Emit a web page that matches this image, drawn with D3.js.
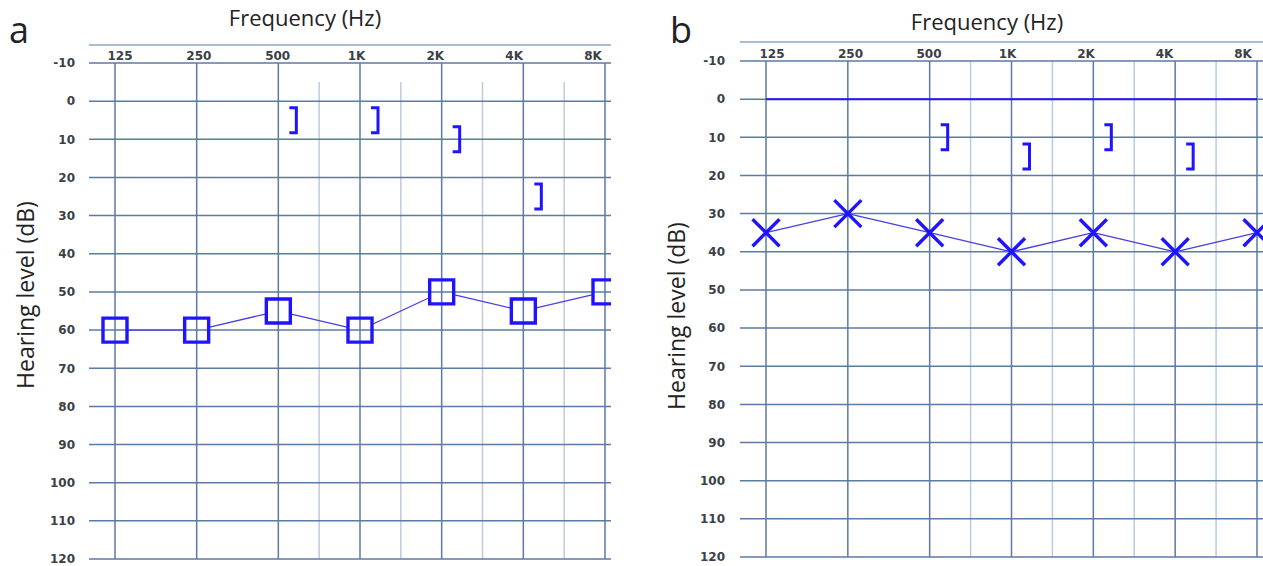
<!DOCTYPE html>
<html>
<head>
<meta charset="utf-8">
<script src="https://cdn.jsdelivr.net/npm/d3@7"></script>
<style>
body { margin:0; background:#fff; }
svg { display:block; }
.tick-label { font-family:"DejaVu Sans", Verdana, sans-serif; font-weight:bold; font-size:12px; fill:#3b3f47; }
.title { font-family:"Open Sans", "Noto Sans", sans-serif; fill:#222; }
</style>
</head>
<body>
<svg id="chart" width="1263" height="566"></svg>
<script>
// audiogram data
var freqLabels = ['125','250','500','1K','2K','4K','8K'];
var minorFreqs = ['750','1.5K','3K','6K'];          // lighter half-octave lines
var levelTicks = [-10,0,10,20,30,40,50,60,70,80,90,100,110,120];

var airA  = [60,60,55,60,50,55,50];                  // squares, panel a
var boneFreqA = ['500','1K','2K','4K'];
var boneA = [5,5,10,25];                             // "]" marks, panel a

var airB  = [35,30,35,40,35,40,35];                  // crosses, panel b
var boneFreqB = ['500','1K','2K','4K'];
var boneB = [10,15,10,15];
var refLevelB = [0];                                 // solid blue line, panel b

var MARK = '#2014ff', LINK = '#4a3fe0', MAJOR = '#5b7aa4', MINOR = '#bccbdd', HEAD = '#a9bcd5';

var svg = d3.select('#chart');

class Panel {

//-------------------------------------------------------------------------------

static Draw(p) {
    var g = svg.append('g');
    var x = d3.scaleLinear().domain([0, freqLabels.length-1]).range([p.x0, p.x1]);
    var xl = d3.scalePoint().domain(freqLabels).range([p.l0, p.l1]);
    var y = d3.scaleLinear().domain([-10,120]).range([p.y0, p.y1]);
    var fx = f => x(freqLabels.indexOf(f));

    var clipId = 'clip-' + p.name;
    g.append('clipPath').attr('id', clipId).append('rect')
        .attr('x', p.gl).attr('y', 0).attr('width', p.gr - p.gl).attr('height', 566);

    // header line
    g.append('line').attr('x1', p.gl).attr('x2', p.gr).attr('y1', p.head).attr('y2', p.head)
        .attr('stroke', HEAD).attr('stroke-width', 2);

    // minor verticals
    g.selectAll('line.minor').data(minorFreqs).join('line').attr('class','minor')
        .attr('x1', (d,i) => x(i + 2.5)).attr('x2', (d,i) => x(i + 2.5))
        .attr('y1', y(p.minorTop)).attr('y2', y(120))
        .attr('stroke', MINOR).attr('stroke-width', 1.5);

    // horizontal grid
    g.selectAll('line.h').data(levelTicks).join('line').attr('class','h')
        .attr('x1', p.gl).attr('x2', p.gr).attr('y1', d => y(d)).attr('y2', d => y(d))
        .attr('stroke', MAJOR).attr('stroke-width', 1.5);

    // major verticals
    g.selectAll('line.v').data(freqLabels).join('line').attr('class','v')
        .attr('x1', fx).attr('x2', fx).attr('y1', y(-10)).attr('y2', y(120))
        .attr('stroke', MAJOR).attr('stroke-width', 1.5);

    // tick labels
    g.selectAll('text.fl').data(freqLabels).join('text').attr('class','tick-label fl')
        .attr('x', xl).attr('y', p.labelY).attr('text-anchor','middle').text(d => d);
    g.selectAll('text.yl').data(levelTicks).join('text').attr('class','tick-label yl')
        .attr('x', p.yLabX).attr('y', y).attr('dy','0.36em').attr('text-anchor','end').text(d => d);

    // titles
    g.append('text').attr('class','title').attr('x', p.titleX).attr('y', p.titleY)
        .attr('text-anchor','middle').attr('font-size', 22).text('Frequency (Hz)');
    g.append('text').attr('class','title')
        .attr('transform', `translate(${p.yTitleX},${p.yTitleY}) rotate(-90)`)
        .attr('text-anchor','middle').attr('font-size', 23).text('Hearing level (dB)');
    g.append('text').attr('class','title').attr('x', p.letterX).attr('y', 43)
        .attr('font-size', 36).attr('fill','#111').text(p.name);

    var marks = g.append('g').attr('clip-path', `url(#${clipId})`);

    // reference line
    if (p.ref) marks.selectAll('line.ref').data(p.ref).join('line').attr('class','ref')
        .attr('x1', x(0)).attr('x2', x(freqLabels.length-1)).attr('y1', y).attr('y2', y)
        .attr('stroke', MARK).attr('stroke-width', 2);

    // connecting segments
    var pts = p.air.map((v,i) => ({ x: x(i), y: y(v) }));
    var segs = d3.pairs(pts).map(([a,b]) => Panel.Trim(a, b, p.trim));
    marks.selectAll('line.seg').data(segs).join('line').attr('class','seg')
        .attr('x1', d => d[0].x).attr('y1', d => d[0].y).attr('x2', d => d[1].x).attr('y2', d => d[1].y)
        .attr('stroke', LINK).attr('stroke-width', 1.3);

    // air conduction symbols
    var sym = marks.selectAll('path.sym').data(pts).join('path').attr('class','sym')
        .attr('fill','none').attr('stroke', MARK).attr('stroke-width', 3.4);
    if (p.symbol == 'square')
        sym.attr('d', d => `M${d.x-12},${d.y-12}h24v24h-24z`);
    else
        sym.attr('d', d => `M${d.x-13.5},${d.y-13.5}L${d.x+13.5},${d.y+13.5}M${d.x+13.5},${d.y-13.5}L${d.x-13.5},${d.y+13.5}`);

    // bone conduction brackets
    marks.selectAll('path.bone').data(p.bone).join('path').attr('class','bone')
        .attr('fill','none').attr('stroke', MARK).attr('stroke-width', 3)
        .attr('d', (d,i) => {
            var bx = fx(p.boneFreq[i]) + 18, by = y(d);
            return `M${bx-7},${by-12.5}H${bx}V${by+12.5}H${bx-7}`;
        });
}

//-------------------------------------------------------------------------------
// shorten a segment so it stops at the edge of a square marker of half-size h

static Trim(a, b, h) {
    if (!h) return [a, b];
    var dx = b.x - a.x, dy = b.y - a.y;
    var t = h / Math.max(Math.abs(dx), Math.abs(dy));
    return [ { x: a.x + dx*t, y: a.y + dy*t }, { x: b.x - dx*t, y: b.y - dy*t } ];
}

}

Panel.Draw({ name:'a', gl:89, gr:611, x0:115, x1:605, l0:120, l1:593, y0:63, y1:559,
    head:45, labelY:60, yLabX:75, titleX:305, titleY:26, yTitleX:34, yTitleY:295, letterX:9,
    minorTop:-5, air:airA, bone:boneA, boneFreq:boneFreqA, symbol:'square', trim:13 });

Panel.Draw({ name:'b', gl:740, gr:1263, x0:766, x1:1257, l0:772, l1:1243, y0:61, y1:557,
    head:42, labelY:58, yLabX:725, titleX:987, titleY:30, yTitleX:685, yTitleY:316, letterX:670,
    minorTop:-10, air:airB, bone:boneB, boneFreq:boneFreqB, symbol:'cross', trim:0, ref:refLevelB });
</script>
</body>
</html>
